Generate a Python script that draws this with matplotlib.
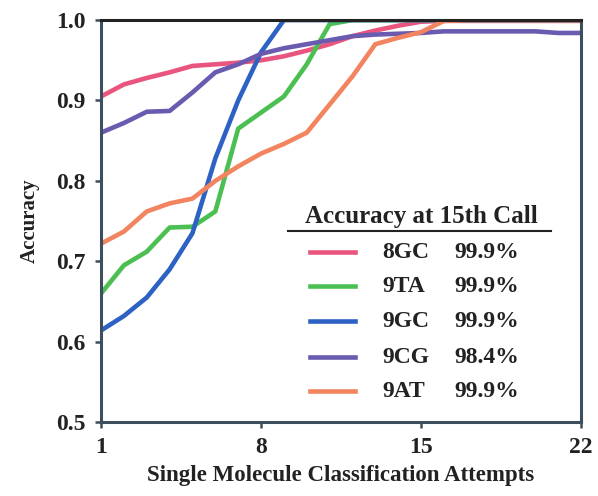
import matplotlib
matplotlib.use("Agg")
import matplotlib.pyplot as plt
from matplotlib.lines import Line2D

# data
attempts = list(range(1, 23))
acc_8gc = [0.905, 0.920, 0.928, 0.935, 0.943, 0.945, 0.947, 0.950, 0.955, 0.962, 0.970,
           0.980, 0.987, 0.993, 0.998, 0.999, 0.999, 0.999, 0.999, 0.999, 0.999, 0.999]
acc_9ta = [0.660, 0.695, 0.712, 0.742, 0.743, 0.762, 0.865, 0.885, 0.905, 0.945, 0.995,
           1.0, 1.0, 1.0, 1.0, 1.0, 1.0, 1.0, 1.0, 1.0, 1.0, 1.0]
acc_9gc = [0.614, 0.632, 0.655, 0.690, 0.735, 0.828, 0.900, 0.960, 1.0, 1.0, 1.0,
           1.0, 1.0, 1.0, 1.0, 1.0, 1.0, 1.0, 1.0, 1.0, 1.0, 1.0]
acc_9cg = [0.860, 0.872, 0.886, 0.887, 0.910, 0.935, 0.945, 0.958, 0.965, 0.970, 0.975,
           0.980, 0.982, 0.983, 0.984, 0.986, 0.986, 0.986, 0.986, 0.986, 0.984, 0.984]
acc_9at = [0.722, 0.737, 0.762, 0.772, 0.778, 0.800, 0.818, 0.834, 0.846, 0.860, 0.895,
           0.930, 0.970, 0.978, 0.985, 0.999, 1.0, 1.0, 1.0, 1.0, 1.0, 1.0]

names = ["8GC", "9TA", "9GC", "9CG", "9AT"]
final_acc = ["99.9%", "99.9%", "99.9%", "98.4%", "99.9%"]
colors = ["#e9557e", "#4cbf52", "#2d62c4", "#6a5bb0", "#f2845f"]
series = [acc_8gc, acc_9ta, acc_9gc, acc_9cg, acc_9at]

plt.rcParams["font.family"] = ["Liberation Serif", "DejaVu Serif"]
plt.rcParams["font.weight"] = "bold"

fig = plt.figure(figsize=(5.98, 4.96), dpi=100)
ax = fig.add_axes([0.169, 0.149, 0.8026, 0.8105])

for vals, c in zip(series, colors):
    ax.plot(attempts, vals, color=c, lw=3.3, solid_capstyle="butt")

ax.set_xlim(1, 22)
ax.set_ylim(0.5, 1.0)
ax.set_xticks([1, 8, 15, 22])
ax.set_yticks([0.5, 0.6, 0.7, 0.8, 0.9, 1.0])
ax.set_yticklabels(["0.5", "0.6", "0.7", "0.8", "0.9", "1.0"])
ax.tick_params(labelsize=17, width=1.8, length=4, color="#3d4f5c", pad=7)
for lab in ax.get_xticklabels() + ax.get_yticklabels():
    lab.set_fontweight("bold")
    lab.set_color("#222222")

for side in ["left", "bottom", "right", "top"]:
    ax.spines[side].set_linewidth(2.2)
    ax.spines[side].set_color("#3d4f5c")
ax.spines["top"].set_color("#222222")

ax.set_xlabel("Single Molecule Classification Attempts", fontsize=16.5, fontweight="bold",
              labelpad=5, color="#222222")
ax.set_ylabel("Accuracy", fontsize=15, fontweight="bold", labelpad=12, color="#222222")

# hand-made legend box
def ax_x(px):
    return (px - 101) / 480.0

def ax_y(py):
    return (422 - py) / 402.0

ax.text(ax_x(421), ax_y(216), "Accuracy at 15th Call", transform=ax.transAxes,
        ha="center", va="center", fontsize=18, fontweight="bold", color="#222222")
ax.add_line(Line2D([ax_x(288), ax_x(551)], [ax_y(231), ax_y(231)], transform=ax.transAxes,
                   color="#222222", lw=1.5))
row_y = [252, 286, 321, 357, 391]
for ry, name, pct, c in zip(row_y, names, final_acc, colors):
    ax.add_line(Line2D([ax_x(310), ax_x(355)], [ax_y(ry), ax_y(ry)], transform=ax.transAxes,
                       color=c, lw=3.3))
    ax.text(ax_x(382), ax_y(ry), name, transform=ax.transAxes, ha="left", va="center",
            fontsize=17, fontweight="bold", color="#222222")
    ax.text(ax_x(519), ax_y(ry), pct, transform=ax.transAxes, ha="right", va="center",
            fontsize=17, fontweight="bold", color="#222222")

fig.savefig("out.png", dpi=100)
